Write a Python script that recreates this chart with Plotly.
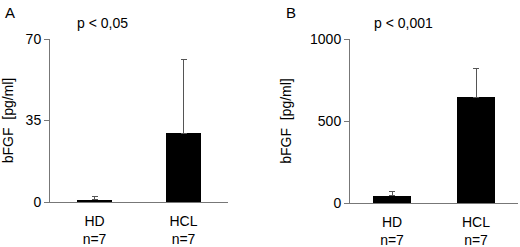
import plotly.graph_objects as go

groups = ["HD", "HCL"]
group_labels = ["HD<br>n=7", "HCL<br>n=7"]
means_a = [1.0, 29.6]
sd_a = [1.5, 31.4]
means_b = [43, 646]
sd_b = [30, 177]
ticks_a = [0, 35, 70]
ticks_b = [0, 500, 1000]
ptext_a = "p < 0,05"
ptext_b = "p < 0,001"
ytitle = "bFGF  [pg/ml]"

font = dict(family="Liberation Sans, Arial, sans-serif", size=14, color="black")
axis_col = "#777777"
err = dict(type="data", symmetric=False, color="#555555", thickness=1, width=3)

fig = go.Figure()
fig.add_trace(go.Bar(x=groups, y=means_a, marker_color="black", width=0.4,
                     marker_line_width=0,
                     error_y=dict(err, array=sd_a, arrayminus=[0, 0]),
                     xaxis="x", yaxis="y", showlegend=False))
fig.add_trace(go.Bar(x=groups, y=means_b, marker_color="black", width=0.45,
                     marker_line_width=0,
                     error_y=dict(err, array=sd_b, arrayminus=[0, 0]),
                     xaxis="x2", yaxis="y2", showlegend=False))

xcommon = dict(showline=True, linecolor=axis_col, linewidth=1, ticks="",
               tickmode="array", tickvals=groups, ticktext=group_labels,
               range=[-0.5, 1.5], tickfont=font, showgrid=False, zeroline=False,
               ticklabelstandoff=6, automargin=False, fixedrange=True)
ycommon = dict(showline=True, linecolor=axis_col, linewidth=1, ticks="outside",
               ticklen=5, tickcolor=axis_col, tickfont=font, showgrid=False,
               zeroline=False, tickmode="array", automargin=False, fixedrange=True)

fig.update_layout(
    template="none",
    width=520, height=247, margin=dict(l=0, r=0, t=0, b=0, pad=0),
    paper_bgcolor="white", plot_bgcolor="white", font=font, bargap=0,
    xaxis=dict(xcommon, domain=[50/520, 228/520], anchor="y"),
    xaxis2=dict(xcommon, domain=[350/520, 518/520], anchor="y2"),
    yaxis=dict(ycommon, domain=[0.182, 0.842], range=[0, 70], tickvals=ticks_a,
               anchor="x", title=dict(text=ytitle, font=font, standoff=15)),
    yaxis2=dict(ycommon, domain=[0.178, 0.842], range=[0, 1000], tickvals=ticks_b,
                anchor="x2", title=dict(text=ytitle, font=font, standoff=15)),
    annotations=[
        dict(text="A", x=10/520, y=1-13/247, xref="paper", yref="paper",
             showarrow=False, font=dict(font, size=15), xanchor="center", yanchor="middle"),
        dict(text="B", x=291/520, y=1-13/247, xref="paper", yref="paper",
             showarrow=False, font=dict(font, size=15), xanchor="center", yanchor="middle"),
        dict(text=ptext_a, x=102/520, y=1-23/247, xref="paper", yref="paper",
             showarrow=False, font=font, xanchor="center", yanchor="middle"),
        dict(text=ptext_b, x=403/520, y=1-23/247, xref="paper", yref="paper",
             showarrow=False, font=font, xanchor="center", yanchor="middle"),
    ],
)

fig.write_html("out.html", config={"displayModeBar": False, "staticPlot": True},
               post_script="document.body.style.margin='0';document.body.style.overflow='hidden';")
